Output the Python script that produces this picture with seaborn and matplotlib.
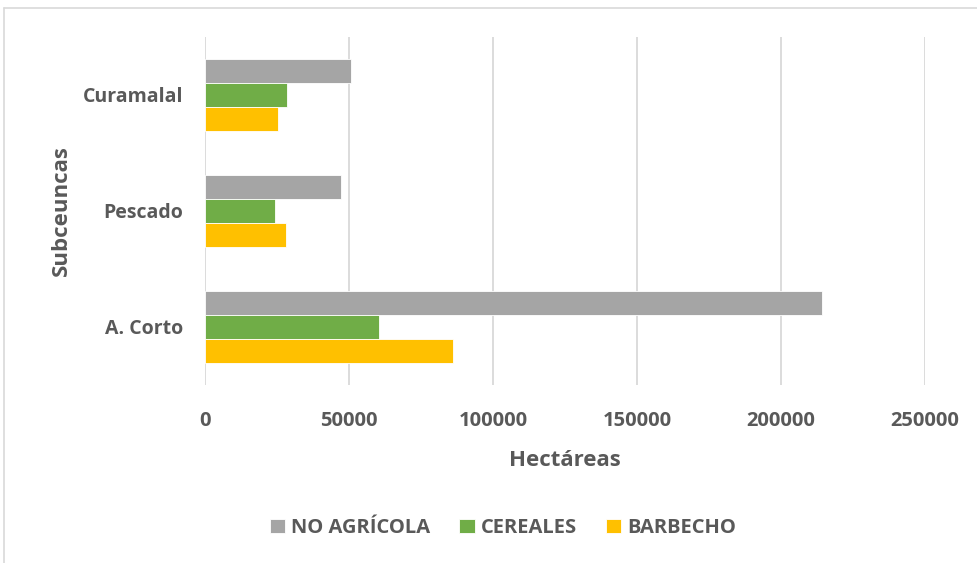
import matplotlib
matplotlib.use("Agg")
import matplotlib.pyplot as plt
import seaborn as sns
import pandas as pd
from matplotlib.lines import Line2D

categories = ["Curamalal", "Pescado", "A. Corto"]
series = ["NO AGRÍCOLA", "CEREALES", "BARBECHO"]
no_agricola = [50600, 47100, 214300]
cereales = [28500, 24400, 60400]
barbecho = [25200, 28100, 86200]
xticks = [0, 50000, 100000, 150000, 200000, 250000]
colors = ["#A5A5A5", "#70AD47", "#FFC000"]

rows = []
for name, vals in zip(series, [no_agricola, cereales, barbecho]):
    for c, v in zip(categories, vals):
        rows.append({"Subceuncas": c, "Serie": name, "Hectáreas": v})
df = pd.DataFrame(rows)

sns.set_style("white")
plt.rcParams["font.family"] = ["Open Sans", "DejaVu Sans"]
text_color = "#595959"
W = "bold"

fig = plt.figure(figsize=(9.78, 5.63), dpi=100)
ax = fig.add_axes([205/978, 1-385/563, 720/978, 348/563])

sns.barplot(data=df, y="Subceuncas", x="Hectáreas", hue="Serie",
            order=categories, hue_order=series, palette=colors, saturation=1,
            orient="h", width=0.62, gap=0, ax=ax,
            edgecolor="white", linewidth=0.6, legend=True)

ax.set_xlim(0, 250000)
ax.set_ylim(2.5, -0.5)
ax.set_xticks(xticks)
ax.set_xticklabels([str(t) for t in xticks])
for s in ax.spines.values():
    s.set_visible(False)
ax.grid(axis="x", color="#D9D9D9", linewidth=1.3)
ax.grid(axis="y", visible=False)
ax.set_axisbelow(True)
ax.tick_params(axis="x", length=0, pad=18.5, labelsize=14.5, labelcolor=text_color)
ax.tick_params(axis="y", length=0, pad=15.5, labelsize=14, labelcolor=text_color)
for lbl in ax.get_xticklabels() + ax.get_yticklabels():
    lbl.set_fontweight(W)

ax.set_xlabel("Hectáreas", fontsize=16, fontweight=W, color=text_color)
ax.set_ylabel("Subceuncas", fontsize=16, fontweight=W, color=text_color)
ax.xaxis.label.set_va("center")
ax.xaxis.set_label_coords(0.5, (385-460)/348)
ax.yaxis.label.set_va("center")
ax.yaxis.set_label_coords((61-205)/720, 0.5)

handles, labels = ax.get_legend_handles_labels()
ax.legend_.remove()
leg = fig.legend(handles, labels, loc="center", bbox_to_anchor=(503/978, 1-528/563),
                 ncol=3, frameon=False, handlelength=0.75, handleheight=0.75,
                 handletextpad=0.3, columnspacing=1.45,
                 prop={"weight": W, "size": 14.5})
for t in leg.get_texts():
    t.set_color(text_color)

fig.add_artist(Line2D([4/978, 1], [1-8/563, 1-8/563], color="#D9D9D9", linewidth=1.2,
                      transform=fig.transFigure))
fig.add_artist(Line2D([4/978, 4/978], [0, 1-8/563], color="#D9D9D9", linewidth=1.2,
                      transform=fig.transFigure))

fig.savefig("out.png", dpi=100)
